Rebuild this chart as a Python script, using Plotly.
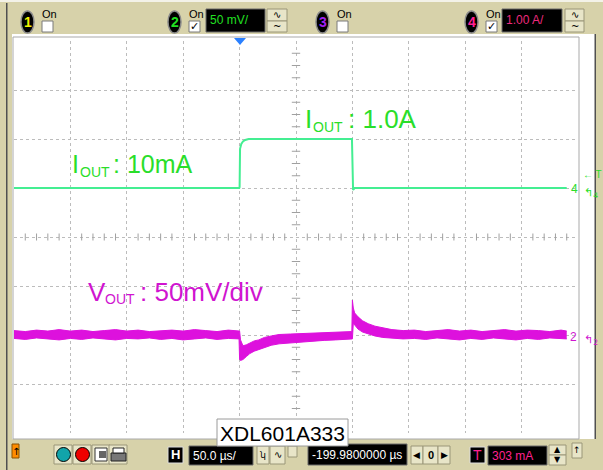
import plotly.graph_objects as go

# ---------------- data (screen divisions; 50 us/div, CH4 1.00 A/div, CH2 50 mV/div) ----------
time_range_us = [-200, 300]
div_range = [-4, 4]

# CH4 load current (green), in divisions
iout_t_us = [-200, -0.3, 0.0, 0.4, 1.5, 3.0, 5.0, 8.0, 99.6, 100.0, 100.6, 102.0, 290]
iout_div = [1.0, 1.0, 1.02, 1.80, 1.90, 1.95, 1.98, 2.0, 2.0, 1.0, 0.96, 1.0, 1.0]

# CH2 output voltage (magenta) noise band: upper / lower envelope, in divisions
vout_t_us = [-200, -190, -180, -170, -160, -150, -140, -130, -120, -110, -100, -90, -80, -70,
             -60, -50, -40, -30, -20, -10, -0.5,
             0, 0.8, 3, 6, 9, 13, 17, 22, 28, 35, 45, 55, 65, 75, 85, 95, 99.5,
             100, 100.8, 102, 105, 109, 114, 120, 127, 135, 145, 155, 165, 175, 185, 195,
             205, 215, 225, 235, 245, 255, 265, 275, 285, 290]
vout_hi_div = [-1.91, -1.93, -1.90, -1.92, -1.89, -1.92, -1.90, -1.93, -1.91, -1.89, -1.92,
               -1.90, -1.93, -1.91, -1.90, -1.92, -1.89, -1.91, -1.93, -1.90, -1.92,
               -1.92, -2.10, -2.22, -2.20, -2.16, -2.12, -2.10, -2.05, -2.02, -1.99, -1.98,
               -1.97, -1.96, -1.95, -1.95, -1.94, -1.93,
               -1.29, -1.45, -1.55, -1.63, -1.71, -1.77, -1.82, -1.86, -1.89, -1.91, -1.90,
               -1.93, -1.91, -1.89, -1.92, -1.90, -1.93, -1.91, -1.89, -1.92, -1.90, -1.91,
               -1.93, -1.90, -1.92]
vout_lo_div = [-2.07, -2.09, -2.06, -2.08, -2.10, -2.07, -2.09, -2.06, -2.08, -2.10, -2.07,
               -2.08, -2.06, -2.09, -2.07, -2.10, -2.08, -2.06, -2.09, -2.07, -2.08,
               -2.50, -2.52, -2.50, -2.44, -2.38, -2.33, -2.30, -2.25, -2.21, -2.18, -2.16,
               -2.14, -2.12, -2.11, -2.10, -2.09, -2.08,
               -2.08, -1.76, -1.80, -1.88, -1.94, -1.98, -2.02, -2.05, -2.07, -2.08, -2.07,
               -2.09, -2.06, -2.08, -2.10, -2.07, -2.09, -2.06, -2.08, -2.10, -2.07, -2.09,
               -2.06, -2.08, -2.08]

# ---------------- styling / geometry ----------------
W, H = 603, 470
L, T, PW, PH = 14, 41, 564, 392
TAN = '#d7d2aa'
BTN = '#e8e5c8'
BTN_LINE = '#9a9678'
GRN_TRACE = '#44ee92'
GRN_TXT = '#2ade2a'
MAG = '#dd11dd'
MAG_TXT = '#d014d0'
SANS = 'Liberation Sans, Arial, sans-serif'
NARROW = 'Liberation Sans Narrow, Liberation Sans, Arial, sans-serif'


def px(x):
    return (x - L) / PW


def py(y):
    return (T + PH - y) / PH


shapes = []
annotations = []


def rect(x0, y0, x1, y1, fill, line=None, lw=1, layer='above'):
    shapes.append(dict(type='rect', xref='paper', yref='paper',
                       x0=px(x0), x1=px(x1), y0=py(y1), y1=py(y0),
                       fillcolor=fill, layer=layer,
                       line=dict(color=line if line else fill, width=lw if line else 0)))


def oval(x0, y0, x1, y1, fill, line=None, lw=1):
    shapes.append(dict(type='circle', xref='paper', yref='paper',
                       x0=px(x0), x1=px(x1), y0=py(y1), y1=py(y0),
                       fillcolor=fill, layer='above',
                       line=dict(color=line if line else fill, width=lw if line else 0)))


def txt(x, y, s, size, color, family=SANS, xa='left', ya='middle'):
    annotations.append(dict(x=px(x), y=py(y), xref='paper', yref='paper', text=s,
                            showarrow=False, xanchor=xa, yanchor=ya,
                            font=dict(size=size, color=color, family=family)))


def button(x0, y0, x1, y1):
    rect(x0, y0, x1, y1, BTN, BTN_LINE, 1)


def display(x0, y0, x1, y1, s, color):
    rect(x0, y0, x1, y1, '#000000', '#6a6a6a', 1)
    txt(x0 + 2, (y0 + y1) / 2, s, 12, color, NARROW)


def channel(x, digit, color, checked):
    oval(x, 11, x + 13, 33, '#000000', '#8a8a8a', 1.5)
    txt(x + 6.5, 22, '<b>' + digit + '</b>', 14, color, SANS, xa='center')
    txt(x + 19, 14, 'On', 11, '#000000', NARROW)
    rect(x + 21, 21, x + 32, 32, '#ffffff', '#7a7a7a', 1)
    if checked:
        txt(x + 26.5, 27, '✓', 11, '#000000', 'DejaVu Sans', xa='center')


# window / toolbar chrome
rect(0, 0, 603, 34, TAN)
rect(0, 0, 603, 2, '#f3f2e8')
rect(0, 34, 12, 470, TAN)
rect(596, 34, 603, 470, TAN)
rect(0, 439, 603, 470, TAN)
rect(6, 3, 7.5, 470, '#505050')
rect(594.5, 34, 596, 439, '#505050')
rect(13, 37, 579, 439, 'rgba(0,0,0,0)', '#a9a9a9', 1)

# top toolbar
channel(21, '1', '#f2f200', False)
channel(168, '2', '#22e022', True)
display(206, 9, 265, 32, '50 mV/', '#22e022')
button(267, 9, 287, 21)
button(267, 21, 287, 32)
txt(277, 15, '∿', 10, '#000000', 'DejaVu Sans', xa='center')
txt(277, 26.5, '~', 10, '#000000', 'DejaVu Sans', xa='center')
channel(316, '3', '#a020f0', False)
channel(465, '4', '#ff2090', True)
display(502, 9, 562, 32, '1.00 A/', '#ec2a7e')
button(565, 9, 584, 21)
button(565, 21, 584, 32)
txt(574.5, 15, '∿', 10, '#000000', 'DejaVu Sans', xa='center')
txt(574.5, 26.5, '~', 10, '#000000', 'DejaVu Sans', xa='center')

# bottom toolbar
rect(12, 444, 19, 458, '#ff8c00', '#8a5000', 1)
txt(15.5, 451, '↑', 10, '#000000', 'DejaVu Sans', xa='center')
for bx in (54, 73, 92, 109):
    button(bx, 445, bx + 18, 464)
oval(56.5, 447.5, 70.5, 461.5, '#12a4aa', '#000000', 1)
oval(75.5, 447.5, 89.5, 461.5, '#ee0000', '#000000', 1)
rect(95, 448, 107, 461, '#ffffff', '#333333', 1)
rect(99, 451, 106, 458, '#666666')
rect(111, 453, 126, 461, '#777777', '#222222', 1)
rect(113, 448, 124, 453, '#ffffff', '#222222', 1)
rect(168, 447, 183, 463, '#000000', '#dddddd', 1)
txt(175.5, 455, '<b>H</b>', 13, '#ffffff', SANS, xa='center')
display(189, 446, 253, 465, '50.0 µs/', '#ffffff')
button(257, 446, 269, 464)
button(270, 446, 285, 464)
txt(263, 455, 'ʮ', 9, '#000000', 'DejaVu Sans', xa='center')
txt(277.5, 455, '∿', 10, '#000000', 'DejaVu Sans', xa='center')
button(288, 446, 297, 457)
display(308, 444, 407, 465, '-199.9800000 µs', '#ffffff')
button(411, 446, 423, 464)
button(423, 446, 438, 464)
button(438, 446, 450, 464)
txt(417, 455, '◀', 9, '#000000', 'DejaVu Sans', xa='center')
txt(430.5, 455, '<b>0</b>', 11, '#000000', NARROW, xa='center')
txt(444, 455, '▶', 9, '#000000', 'DejaVu Sans', xa='center')
rect(470, 447, 485, 463, '#000000', '#dddddd', 1)
txt(477.5, 455, 'T', 14, '#ff2090', SANS, xa='center')
display(488, 446, 547, 465, '303 mA', '#ff2090')
button(549, 445, 566, 455)
button(549, 455, 566, 465)
txt(557.5, 450, '▲', 8, '#000000', 'DejaVu Sans', xa='center')
txt(557.5, 460, '▼', 8, '#000000', 'DejaVu Sans', xa='center')
button(572, 443, 582, 458)
txt(577, 450, '↑', 9, '#000000', 'DejaVu Sans', xa='center')

# label box
rect(217, 419, 348, 446, '#ffffff', '#9a9a9a', 1)
txt(282.5, 433, 'XDL601A333', 21, '#000000', SANS, xa='center')

# trigger marker
tri = 'M {} {} L {} {} L {} {} Z'.format(px(234), py(38), px(246), py(38), px(240), py(45))
shapes.append(dict(type='path', xref='paper', yref='paper', path=tri,
                   fillcolor='#2a80ff', line=dict(color='#2a80ff', width=0), layer='above'))

# channel reference markers on the right
txt(581, 174, '← T', 10, GRN_TXT, SANS)
txt(569, 189, '4', 12, GRN_TXT, SANS)
txt(582, 193, '↰<sub>4</sub>', 11, GRN_TXT, 'DejaVu Sans')
txt(568, 337, '2', 12, MAG_TXT, SANS)
txt(582, 340, '↰<sub>2</sub>', 11, MAG_TXT, 'DejaVu Sans')

# trace labels
txt(70, 164, 'I', 25, GRN_TXT)
txt(78, 172, 'OUT', 14, GRN_TXT)
txt(111, 164, ': 10mA', 25, GRN_TXT)
txt(303, 119, 'I', 26, GRN_TXT)
txt(311, 127, 'OUT', 14, GRN_TXT)
txt(346, 119, ': 1.0A', 26, GRN_TXT)
txt(86, 292, 'V', 26, MAG_TXT)
txt(103, 299, 'OUT', 14, MAG_TXT)
txt(138, 292, ': 50mV/div', 26, MAG_TXT)

# ---------------- figure ----------------
fig = go.Figure()
fig.add_trace(go.Scatter(x=vout_t_us, y=vout_lo_div, mode='lines',
                         line=dict(color=MAG, width=1), hoverinfo='skip', showlegend=False))
fig.add_trace(go.Scatter(x=vout_t_us, y=vout_hi_div, mode='lines', fill='tonexty',
                         fillcolor=MAG, line=dict(color=MAG, width=1),
                         hoverinfo='skip', showlegend=False))
fig.add_trace(go.Scatter(x=iout_t_us, y=iout_div, mode='lines',
                         line=dict(color=GRN_TRACE, width=2), hoverinfo='skip', showlegend=False))

# minor division marks on the centre cross-hair
x_minor = [time_range_us[0] + 10 * k for k in range(1, 50) if k % 5]
y_minor = [div_range[0] + 0.25 * k for k in range(1, 32) if k % 4]
x_center = (time_range_us[0] + time_range_us[1]) / 2
fig.add_trace(go.Scatter(x=x_minor, y=[0] * len(x_minor), mode='markers',
                         marker=dict(symbol='line-ns', size=5, line=dict(color='#a0a0a0', width=1)),
                         hoverinfo='skip', showlegend=False))
fig.add_trace(go.Scatter(x=[x_center] * len(y_minor), y=y_minor, mode='markers',
                         marker=dict(symbol='line-ew', size=6, line=dict(color='#a0a0a0', width=1)),
                         hoverinfo='skip', showlegend=False))

fig.update_xaxes(range=time_range_us, tick0=-200, dtick=50, showgrid=True, griddash='dot',
                 gridcolor='#bcbcbc', gridwidth=1, showticklabels=False, ticks='',
                 zeroline=False, showline=False, fixedrange=True)
fig.update_yaxes(range=div_range, tick0=-4, dtick=1, showgrid=True, griddash='dot',
                 gridcolor='#bcbcbc', gridwidth=1, showticklabels=False, ticks='',
                 zeroline=False, showline=False, fixedrange=True)
fig.update_layout(width=W, height=H, autosize=False,
                  margin=dict(l=L, r=W - L - PW, t=T, b=H - T - PH, pad=0),
                  paper_bgcolor='#ffffff', plot_bgcolor='#ffffff',
                  shapes=shapes, annotations=annotations, showlegend=False)
fig.write_html('out.html', config={'displayModeBar': False},
               post_script="document.body.style.margin='0';document.body.style.overflow='hidden';")
